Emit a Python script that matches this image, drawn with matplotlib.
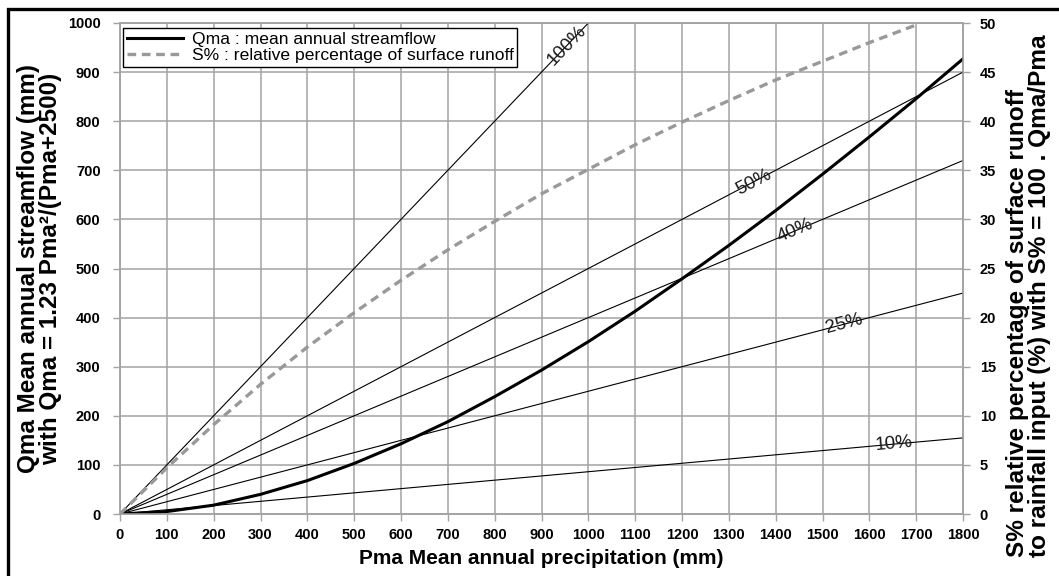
import matplotlib
matplotlib.use('Agg')
import matplotlib.pyplot as plt
from matplotlib.patches import Rectangle
import numpy as np

plt.rcParams['font.family'] = ['Liberation Sans', 'DejaVu Sans']

# ---- data ----
precip = [0, 100, 200, 300, 400, 500, 600, 700, 800, 900, 1000,
          1100, 1200, 1300, 1400, 1500, 1600, 1700, 1800]
qma = [0, 5, 18, 40, 68, 103, 143, 188, 239, 293, 351,
       413, 479, 547, 618, 692, 768, 846, 927]
s_precip = [0, 100, 200, 300, 400, 500, 600, 700, 800, 900, 1000,
            1100, 1200, 1300, 1400, 1500, 1600, 1700]
s_pct = [0, 4.7, 9.1, 13.2, 17.0, 20.5, 23.8, 26.9, 29.8, 32.6, 35.1,
         37.6, 39.9, 42.1, 44.2, 46.1, 48.0, 49.8]

ref_labels = ['100%', '50%', '40%', '25%', '10%']
ref_end_x = [1000, 1800, 1800, 1800, 1800]
ref_end_y = [1000, 900, 720, 450, 155]
ref_label_x = [955, 1353, 1442, 1545, 1652]

x_ticks = list(range(0, 1801, 100))
y_ticks = list(range(0, 1001, 100))
y2_ticks = list(range(0, 51, 5))

W, H = 1059, 576
fig = plt.figure(figsize=(W / 100, H / 100), dpi=100)
fig.patch.set_facecolor('white')

# figure border (left and top visible)
fig.add_artist(Rectangle((8 / W, -0.05), 1.2, 1.05 - 9 / H, transform=fig.transFigure,
                         fill=False, edgecolor='black', linewidth=2.4))

ax = fig.add_axes([120 / W, (H - 514) / H, 843 / W, 491 / H])
grid_c = '#a3a3a3'

# reference lines
for lab, ex, ey, lx in zip(ref_labels, ref_end_x, ref_end_y, ref_label_x):
    ax.plot([0, ex], [0, ey], color='black', lw=0.8, zorder=3)
    slope = ey / ex
    ax.text(lx, lx * slope, lab, rotation=np.degrees(np.arctan(slope)),
            transform_rotates_text=True, rotation_mode='anchor',
            ha='center', va='center', fontsize=13.5, color='#1a1a1a', zorder=4)

line_q, = ax.plot(precip, qma, color='black', lw=2.2, zorder=5,
                  label='Qma : mean annual streamflow')

ax.set_xlim(0, 1800)
ax.set_ylim(0, 1000)
ax.set_xticks(x_ticks)
ax.set_yticks(y_ticks)
ax.grid(True, color=grid_c, lw=1.1, zorder=0)
ax.set_axisbelow(True)
for s in ax.spines.values():
    s.set_color(grid_c)
    s.set_linewidth(1.1)
ax.tick_params(axis='both', colors=grid_c, length=5, width=1, labelcolor='black',
               labelsize=10.5)
ax.tick_params(axis='x', pad=5)
ax.tick_params(axis='y', pad=9)
for t in ax.get_xticklabels() + ax.get_yticklabels():
    t.set_fontweight('bold')

ax.set_xlabel('Pma Mean annual precipitation (mm)', fontsize=15, fontweight='bold',
              labelpad=5)
ax.set_ylabel('Qma Mean annual streamflow (mm)\nwith Qma = 1.23 Pma²/(Pma+2500)',
              fontsize=17.5, fontweight='bold', labelpad=4, linespacing=0.95)

ax2 = ax.twinx()
line_s, = ax2.plot(s_precip, s_pct, color='#999999', lw=2.4, ls=(0, (2.6, 1.7)),
                   zorder=5, label='S% : relative percentage of surface runoff')
ax2.set_ylim(0, 50)
ax2.set_yticks(y2_ticks)
for s in ax2.spines.values():
    s.set_color(grid_c)
    s.set_linewidth(1.1)
ax2.tick_params(axis='y', colors=grid_c, length=5, width=1, labelcolor='black',
                labelsize=10.5, pad=7)
for t in ax2.get_yticklabels():
    t.set_fontweight('bold')
ax2.set_ylabel('S% relative percentage of surface runoff\nto rainfall input (%) with S% = 100 . Qma/Pma',
               fontsize=17.6, fontweight='bold', labelpad=7, linespacing=0.95)
rl = ax2.yaxis.label
rl.set_horizontalalignment('left')
rl.set_multialignment('left')
rl.set_y((514 - 557) / 491)

leg = ax2.legend(handles=[line_q, line_s], loc='upper left',
                 bbox_to_anchor=(0.004, 0.99), borderaxespad=0, fontsize=12.6,
                 fancybox=False, framealpha=1, edgecolor='black',
                 handlelength=3.2, borderpad=0.2, labelspacing=0.08, handletextpad=0.5)
leg.get_frame().set_linewidth(1.0)

fig.savefig('out.png', dpi=100, facecolor='white')
